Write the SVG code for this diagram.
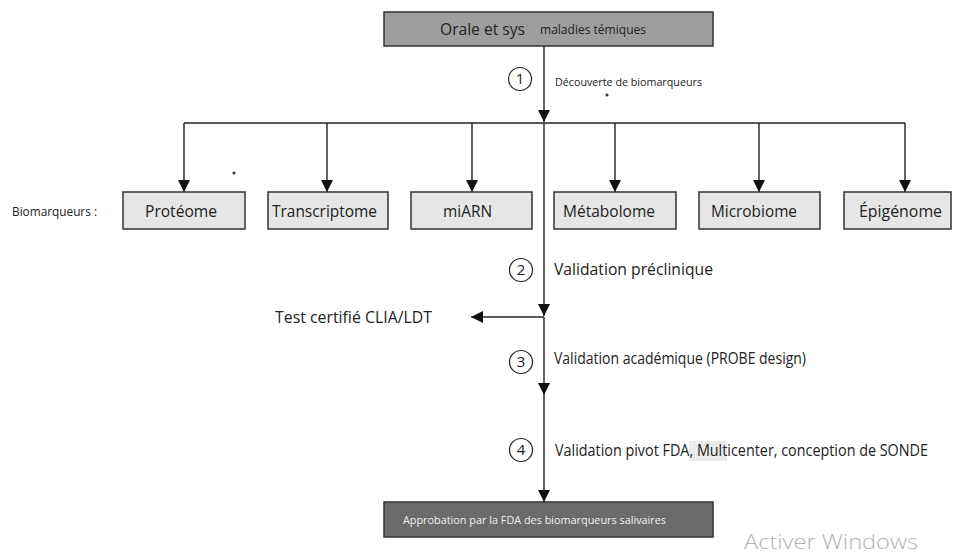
<svg xmlns="http://www.w3.org/2000/svg" width="955" height="555" viewBox="0 0 955 555">
<style>
text{font-family:"Open Sans","Noto Sans","Liberation Sans",sans-serif;fill:#222}
.ln{stroke:#222;stroke-width:1.4;fill:none}
.bx{fill:#e6e6e6;stroke:#333;stroke-width:1.5}
.lbl{font-size:16px}
.step{font-size:15.5px}
.circ{fill:#fff;stroke:#222;stroke-width:1.2}
.num{font-size:15px;text-anchor:middle}
</style>
<defs>
<marker id="ah" viewBox="0 0 12 12" refX="12" refY="6" markerWidth="12" markerHeight="12" markerUnits="userSpaceOnUse" orient="auto">
<path d="M0,0 L12,6 L0,12 Z" fill="#111"/>
</marker>
</defs>
<rect width="955" height="555" fill="#fff"/>

<g id="connectors">
<line class="ln" x1="544" y1="46" x2="544" y2="122" marker-end="url(#ah)"/>
<line class="ln" x1="184" y1="123" x2="905" y2="123"/>
<line class="ln" x1="184" y1="123" x2="184" y2="192" marker-end="url(#ah)"/>
<line class="ln" x1="327" y1="123" x2="327" y2="192" marker-end="url(#ah)"/>
<line class="ln" x1="472" y1="123" x2="472" y2="192" marker-end="url(#ah)"/>
<line class="ln" x1="615" y1="123" x2="615" y2="192" marker-end="url(#ah)"/>
<line class="ln" x1="759" y1="123" x2="759" y2="192" marker-end="url(#ah)"/>
<line class="ln" x1="905" y1="123" x2="905" y2="192" marker-end="url(#ah)"/>
<line class="ln" x1="544" y1="123" x2="544" y2="316" marker-end="url(#ah)"/>
<line class="ln" x1="544" y1="317" x2="471" y2="317" marker-end="url(#ah)"/>
<line class="ln" x1="544" y1="317" x2="544" y2="395" marker-end="url(#ah)"/>
<line class="ln" x1="544" y1="395" x2="544" y2="502" marker-end="url(#ah)"/>
</g>

<g id="top">
<rect x="384" y="12" width="329" height="34" fill="#9e9e9e" stroke="#333" stroke-width="1.5"/>
<text x="440" y="35" font-size="16.5" textLength="85" lengthAdjust="spacingAndGlyphs">Orale et sys</text>
<text x="540" y="34" font-size="12" textLength="106" lengthAdjust="spacingAndGlyphs">maladies témiques</text>
</g>

<g id="step1">
<circle class="circ" cx="520" cy="79" r="11.5"/>
<text class="num" x="520" y="84">1</text>
<text x="555" y="86" font-size="11.5" textLength="147" lengthAdjust="spacingAndGlyphs">Découverte de biomarqueurs</text>
<circle cx="607" cy="95" r="1.5" fill="#333"/>
</g>

<circle cx="234" cy="173" r="1.5" fill="#333"/>

<text x="12" y="216" font-size="12" textLength="85" lengthAdjust="spacingAndGlyphs">Biomarqueurs :</text>

<g id="proteome"><rect class="bx" x="123" y="192" width="122" height="37"/><text class="lbl" x="145" y="217" textLength="72" lengthAdjust="spacingAndGlyphs">Protéome</text></g>
<g id="transcriptome"><rect class="bx" x="268" y="192" width="120" height="37"/><text class="lbl" x="272" y="217" textLength="105" lengthAdjust="spacingAndGlyphs">Transcriptome</text></g>
<g id="miarn"><rect class="bx" x="411" y="192" width="121" height="37"/><text class="lbl" x="443" y="217" textLength="49" lengthAdjust="spacingAndGlyphs">miARN</text></g>
<g id="metabolome"><rect class="bx" x="554" y="192" width="122" height="37"/><text class="lbl" x="563" y="217" textLength="92" lengthAdjust="spacingAndGlyphs">Métabolome</text></g>
<g id="microbiome"><rect class="bx" x="699" y="192" width="121" height="37"/><text class="lbl" x="711" y="217" textLength="86" lengthAdjust="spacingAndGlyphs">Microbiome</text></g>
<g id="epigenome"><rect class="bx" x="844" y="192" width="107" height="37"/><text class="lbl" x="859" y="217" textLength="83" lengthAdjust="spacingAndGlyphs">Épigénome</text></g>

<g id="step2">
<circle class="circ" cx="521" cy="270" r="11.5"/>
<text class="num" x="521" y="275">2</text>
<text class="step" x="554" y="275" textLength="159" lengthAdjust="spacingAndGlyphs">Validation préclinique</text>
</g>

<g id="clia">
<text class="step" x="275" y="323" textLength="157" lengthAdjust="spacingAndGlyphs">Test certifié CLIA/LDT</text>
</g>

<g id="step3">
<circle class="circ" cx="521" cy="362" r="11.5"/>
<text class="num" x="521" y="367">3</text>
<text class="step" x="554" y="364" textLength="252" lengthAdjust="spacingAndGlyphs">Validation académique (PROBE design)</text>
</g>

<g id="step4">
<rect x="689" y="441" width="38" height="20" fill="#ebebeb"/>
<circle class="circ" cx="521" cy="450" r="11.5"/>
<text class="num" x="521" y="455">4</text>
<text class="step" x="555" y="456" textLength="373" lengthAdjust="spacingAndGlyphs">Validation pivot FDA, Multicenter, conception de SONDE</text>
</g>

<g id="bottom">
<rect x="384" y="502" width="329" height="35" fill="#6b6b6b" stroke="#333" stroke-width="1.5"/>
<text x="403" y="524" font-size="11" textLength="263" lengthAdjust="spacingAndGlyphs" style="fill:#f0f0f0">Approbation par la FDA des biomarqueurs salivaires</text>
</g>

<text x="744" y="549" font-size="20" font-weight="300" textLength="174" lengthAdjust="spacingAndGlyphs" style="fill:#b3b3b3">Activer Windows</text>
</svg>
